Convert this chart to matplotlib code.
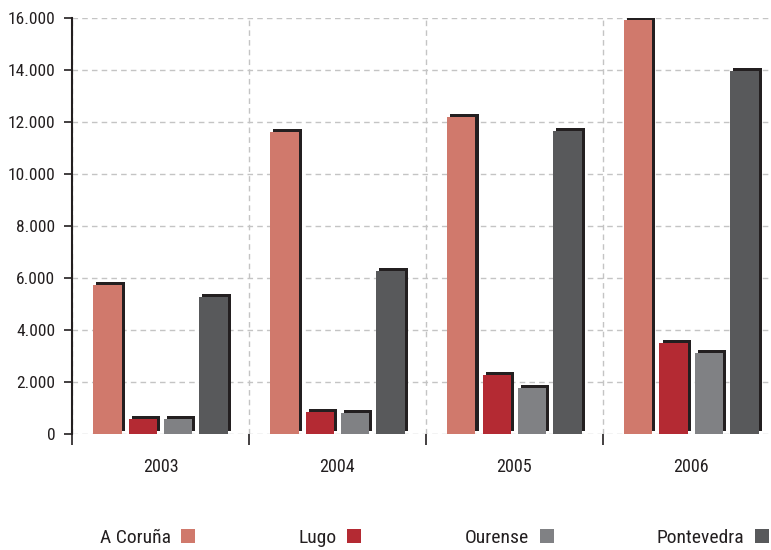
import numpy as np
import matplotlib
matplotlib.use('Agg')
import matplotlib.pyplot as plt
import matplotlib.patheffects as pe
from matplotlib import font_manager as fm
from matplotlib.patches import Patch
from matplotlib.ticker import FuncFormatter, FixedLocator

years = ['2003', '2004', '2005', '2006']
provinces = ['A Coruña', 'Lugo', 'Ourense', 'Pontevedra']
a_coruna = [5730, 11620, 12190, 15920]
lugo = [560, 850, 2270, 3500]
ourense = [580, 810, 1770, 3120]
pontevedra = [5280, 6270, 11650, 13960]
series = [a_coruna, lugo, ourense, pontevedra]
colors = ['#d0796c', '#b42a33', '#808184', '#58595b']
shadow = '#231f20'
text_col = '#231f20'

# look for a narrow face, the original uses a condensed grotesque
narrow = None
for f in fm.fontManager.ttflist:
    if f.stretch in ('condensed', 'semi-condensed') and f.style == 'normal' and f.weight in (400, 'normal', 'regular'):
        if narrow is None or 'Liberation' in f.name or 'Roboto' in f.name:
            narrow = f
if narrow is not None:
    plt.rcParams['font.family'] = [narrow.name, 'DejaVu Sans']
    plt.rcParams['font.stretch'] = narrow.stretch
    fs = 12.5
else:
    plt.rcParams['font.family'] = ['Liberation Sans', 'DejaVu Sans']
    fs = 11.5

fig = plt.figure(figsize=(7.71, 5.5), dpi=100)
ax = fig.add_axes([0.0934, 0.211, 0.918, 0.756])

centers = np.arange(len(years)) + 0.5
offsets = [-0.3, -0.1, 0.1, 0.3]
width = 0.16
fx = [pe.SimplePatchShadow(offset=(2.2, 2.2), shadow_rgbFace=shadow, alpha=1.0), pe.Normal()]
for vals, off, col in zip(series, offsets, colors):
    bars = ax.bar(centers + off, vals, width, color=col, zorder=3)
    for b in bars:
        b.set_path_effects(fx)

ax.set_xlim(0, 4)
ax.set_ylim(0, 16000)
ax.set_axisbelow(True)

ax.yaxis.set_major_locator(FixedLocator(np.arange(0, 16001, 2000)))
ax.yaxis.set_major_formatter(FuncFormatter(lambda v, p: f"{int(v):,}".replace(",", ".")))
ax.xaxis.set_major_locator(FixedLocator([0, 1, 2, 3]))
ax.xaxis.set_major_formatter(FuncFormatter(lambda v, p: ''))
ax.xaxis.set_minor_locator(FixedLocator(centers))
ax.set_xticklabels(years, minor=True)

ax.tick_params(axis='y', length=6, width=1.2, color=text_col, pad=6, labelsize=fs, labelcolor=text_col)
ax.tick_params(axis='x', which='major', length=8, width=1.2, color=text_col, direction='out')
ax.tick_params(axis='x', which='minor', length=0, pad=17, labelsize=13, labelcolor=text_col)

ax.grid(True, which='major', color='#c4c4c4', linestyle=(0, (4, 3)), linewidth=1.0)

for s in ['top', 'right', 'bottom']:
    ax.spines[s].set_visible(False)
ax.spines['left'].set_color(text_col)
ax.spines['left'].set_linewidth(1.5)

handles = [Patch(facecolor=c, edgecolor='none') for c in colors]
leg = ax.legend(handles, provinces, loc='lower left', bbox_to_anchor=(0.028, -0.29, 0.968, 0.05),
                mode='expand', ncol=4, frameon=False, markerfirst=False, fontsize=14,
                handlelength=0.72, handleheight=0.72, handletextpad=0.55, borderaxespad=0)
for t in leg.get_texts():
    t.set_color(text_col)

fig.savefig('out.png', dpi=100)
